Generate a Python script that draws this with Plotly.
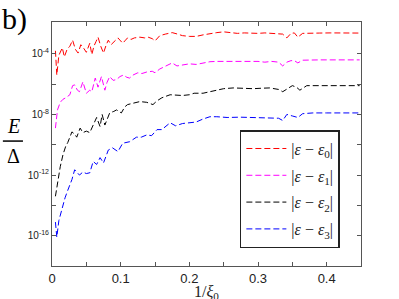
import plotly.graph_objects as go

# ---- data (log10 of E/Δ) ----
x_red = [0.005,0.007,0.010,0.015,0.018,0.022,0.026,0.030,0.034,0.038,0.042,0.045,0.050,0.055,0.058,0.061,0.064,0.067,0.071,0.075,0.079,0.082,0.086,0.090,0.096,0.100,0.103,0.107,0.110,0.115,0.120,0.128,0.135,0.140,0.146,0.150,0.157,0.165,0.175,0.183,0.190,0.200,0.210,0.220,0.230,0.240,0.250,0.260,0.270,0.280,0.290,0.300,0.310,0.320,0.330,0.336,0.342,0.348,0.353,0.358,0.365,0.375,0.390,0.405,0.420,0.435,0.448]
log_red = [-3.8,-5.4,-4.1,-3.6,-4.2,-3.7,-3.5,-3.1,-3.7,-3.95,-3.4,-3.55,-3.9,-3.3,-4.05,-3.5,-3.2,-2.9,-3.5,-3.95,-3.4,-3.1,-3.4,-3.2,-2.95,-3.15,-3.3,-3.1,-2.95,-3.05,-2.95,-2.9,-2.95,-2.9,-3.0,-3.15,-2.8,-2.7,-2.6,-2.7,-2.8,-2.85,-2.85,-2.75,-2.65,-2.6,-2.55,-2.6,-2.65,-2.62,-2.65,-2.65,-2.62,-2.65,-2.65,-2.7,-2.95,-2.65,-2.62,-2.9,-2.65,-2.63,-2.63,-2.62,-2.63,-2.63,-2.63]

x_mag = [0.005,0.008,0.012,0.016,0.020,0.026,0.030,0.033,0.037,0.040,0.045,0.050,0.055,0.058,0.063,0.067,0.072,0.077,0.080,0.084,0.089,0.094,0.099,0.104,0.109,0.113,0.118,0.125,0.131,0.138,0.146,0.150,0.157,0.165,0.175,0.182,0.190,0.200,0.210,0.220,0.230,0.240,0.250,0.260,0.270,0.280,0.290,0.300,0.310,0.320,0.330,0.336,0.342,0.348,0.353,0.358,0.365,0.375,0.390,0.405,0.420,0.435,0.448]
log_mag = [-8.9,-7.7,-7.2,-7.0,-6.9,-6.7,-6.1,-6.05,-6.4,-6.5,-5.85,-6.6,-6.4,-6.5,-5.6,-6.2,-5.5,-6.4,-5.9,-5.5,-5.75,-5.7,-5.5,-5.4,-5.55,-5.6,-5.4,-5.25,-5.3,-5.2,-5.15,-5.25,-5.0,-4.8,-4.6,-4.8,-4.75,-4.66,-4.7,-4.6,-4.52,-4.5,-4.5,-4.48,-4.5,-4.5,-4.5,-4.5,-4.55,-4.5,-4.55,-4.8,-4.55,-4.45,-4.45,-4.6,-4.42,-4.4,-4.4,-4.4,-4.4,-4.4,-4.4]

x_blk = [0.005,0.009,0.012,0.016,0.020,0.023,0.029,0.033,0.036,0.041,0.045,0.050,0.055,0.060,0.065,0.070,0.073,0.077,0.084,0.090,0.094,0.101,0.106,0.110,0.118,0.128,0.138,0.147,0.153,0.160,0.172,0.183,0.190,0.200,0.207,0.220,0.230,0.240,0.250,0.264,0.280,0.293,0.305,0.317,0.330,0.336,0.343,0.350,0.356,0.361,0.371,0.385,0.400,0.415,0.430,0.448]
log_blk = [-13.4,-12.1,-11.45,-10.65,-10.1,-9.85,-9.15,-9.3,-9.5,-8.9,-9.2,-9.1,-9.2,-8.7,-8.2,-8.8,-8.0,-8.7,-7.9,-7.8,-7.7,-7.9,-7.5,-7.35,-7.25,-7.15,-7.2,-7.35,-7.1,-6.9,-6.7,-6.75,-6.75,-6.7,-6.6,-6.6,-6.5,-6.4,-6.3,-6.25,-6.28,-6.3,-6.27,-6.25,-6.35,-6.5,-6.3,-6.1,-6.2,-6.4,-6.1,-6.1,-6.1,-6.1,-6.1,-6.1]

x_blu = [0.005,0.007,0.010,0.015,0.019,0.023,0.029,0.033,0.040,0.045,0.050,0.055,0.060,0.065,0.070,0.075,0.082,0.088,0.096,0.103,0.113,0.123,0.130,0.138,0.145,0.153,0.160,0.172,0.180,0.190,0.200,0.210,0.220,0.230,0.240,0.255,0.274,0.290,0.305,0.320,0.330,0.336,0.342,0.350,0.358,0.365,0.380,0.400,0.420,0.448]
log_blu = [-15.1,-16.1,-15.0,-14.1,-13.5,-13.0,-12.3,-11.65,-12.0,-11.8,-11.9,-11.85,-11.1,-11.3,-10.85,-11.2,-10.35,-10.2,-10.45,-9.9,-9.8,-9.5,-9.5,-9.35,-9.4,-9.0,-9.0,-8.55,-8.75,-8.6,-8.55,-8.5,-8.3,-8.15,-8.15,-8.2,-8.18,-8.2,-8.2,-8.2,-8.25,-8.4,-8.0,-8.1,-8.2,-7.95,-7.9,-7.9,-7.9,-7.9]

series_names = ["|<i>ε</i> − <i>ε</i><sub>0</sub>|", "|<i>ε</i> − <i>ε</i><sub>1</sub>|",
                "|<i>ε</i> − <i>ε</i><sub>2</sub>|", "|<i>ε</i> − <i>ε</i><sub>3</sub>|"]
series_colors = ["#ff0000", "#ff00ff", "#000000", "#0000ff"]
series_x = [x_red, x_mag, x_blk, x_blu]
series_log = [log_red, log_mag, log_blk, log_blu]

y_tick_vals = [1e-16, 1e-14, 1e-12, 1e-10, 1e-8, 1e-6, 1e-4]
y_tick_text = ["10<sup>-16</sup>", "", "10<sup>-12</sup>", "", "10<sup>-8</sup>", "", "10<sup>-4</sup>"]
x_tick_vals = [0, 0.05, 0.1, 0.15, 0.2, 0.25, 0.3, 0.35, 0.4]
x_tick_text = ["0", "", "0.1", "", "0.2", "", "0.3", "", "0.4"]

fig = go.Figure()
for i in range(4):
    fig.add_trace(go.Scatter(
        x=series_x[i], y=[10 ** v for v in series_log[i]],
        mode="lines", name=series_names[i], legendgroup=str(i),
        line=dict(color=series_colors[i], width=1, dash="6px,3px"),
    ))

serif = "Liberation Serif, DejaVu Serif, serif"
sans = "Liberation Sans, Arial, sans-serif"

fig.update_layout(
    width=399, height=299,
    margin=dict(l=52, r=38, t=22, b=33),
    paper_bgcolor="white", plot_bgcolor="white",
    showlegend=True,
    legend=dict(
        x=0.608, y=0.557, xanchor="left", yanchor="top",
        bordercolor="#222", borderwidth=1.5, bgcolor="white",
        font=dict(family=serif, size=16, color="#222"),
        tracegroupgap=3, itemwidth=40,
    ),
    xaxis=dict(
        range=[0, 0.45], showgrid=False, zeroline=False, automargin=False,
        showline=True, linecolor="#555", linewidth=1, mirror="ticks",
        ticks="inside", ticklen=4, tickcolor="#555",
        tickvals=x_tick_vals, ticktext=x_tick_text,
        tickfont=dict(family=sans, size=13, color="#222"),
    ),
    yaxis=dict(
        type="log", range=[-18, -1.9], showgrid=False, zeroline=False, automargin=False,
        showline=True, linecolor="#555", linewidth=1, mirror="ticks",
        ticks="inside", ticklen=4, tickcolor="#555",
        tickvals=y_tick_vals, ticktext=y_tick_text,
        tickfont=dict(family=sans, size=10, color="#222"),
    ),
    annotations=[
        dict(text="b)", x=0, y=1, xref="paper", yref="paper", xshift=-52, yshift=22,
             xanchor="left", yanchor="top", showarrow=False,
             font=dict(family=serif, size=30, color="#000")),
        dict(text="<i>E</i>", x=0, y=0.52, xref="paper", yref="paper", xshift=-39,
             xanchor="center", yanchor="bottom", showarrow=False,
             font=dict(family=serif, size=20, color="#000")),
        dict(text="Δ", x=0, y=0.505, xref="paper", yref="paper", xshift=-39,
             xanchor="center", yanchor="top", showarrow=False,
             font=dict(family=serif, size=20, color="#000")),
        dict(text="1/<i>ξ</i><sub>0</sub>", x=0.5, y=0, xref="paper", yref="paper", yshift=-15,
             xanchor="center", yanchor="top", showarrow=False,
             font=dict(family=serif, size=16, color="#222")),
    ],
    shapes=[
        dict(type="line", xref="paper", yref="paper", x0=-0.159, x1=-0.094, y0=0.512, y1=0.512,
             line=dict(color="#000", width=1.5)),
    ],
)

fig.write_html("out.html", config={"displayModeBar": False},
               post_script="document.body.style.margin='0';document.body.style.padding='0';")
